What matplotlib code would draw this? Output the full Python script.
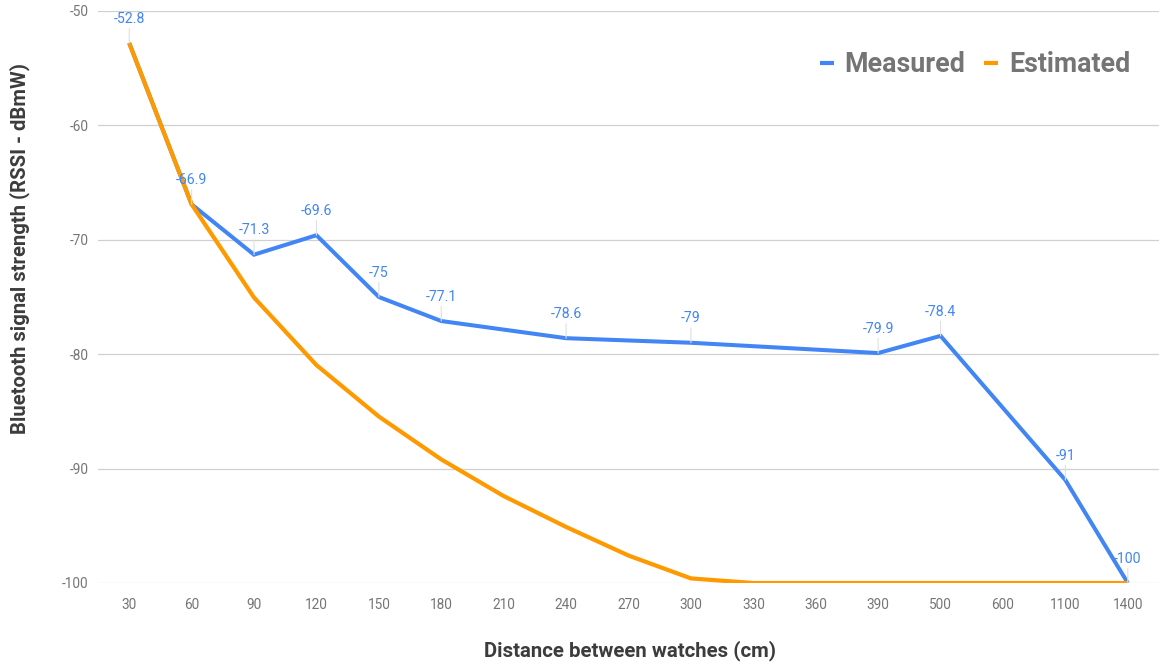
import numpy as np
import matplotlib
matplotlib.use("Agg")
import matplotlib.pyplot as plt
from matplotlib.lines import Line2D

plt.rcParams['font.family'] = ['Roboto', 'DejaVu Sans']

categories = ["30", "60", "90", "120", "150", "180", "210", "240", "270", "300",
              "330", "360", "390", "500", "600", "1100", "1400"]
measured = [-52.8, -66.9, -71.3, -69.6, -75, -77.1, np.nan, -78.6, np.nan, -79,
            np.nan, np.nan, -79.9, -78.4, np.nan, -91, -100]
estimated = [-52.8, -66.9, -75.05, -80.95, -85.45, -89.2, -92.4, -95.1, -97.6, -99.6,
             -100, -100, -100, -100, -100, -100, -100]
yticks = [-50, -60, -70, -80, -90, -100]
series_names = ["Measured", "Estimated"]

BLUE = '#4285F4'
ORANGE = '#FF9900'
GRAY = '#757575'
W, H = 1159, 664

fig = plt.figure(figsize=(W / 100, H / 100), dpi=100)
ax = fig.add_axes([98 / W, 81 / H, 1 - 98 / W, 572 / H])

x = np.arange(len(categories))
m = np.array(measured, dtype=float)
mask = ~np.isnan(m)
ax.plot(x[mask], m[mask], color=BLUE, lw=2.9, solid_joinstyle='miter',
        solid_capstyle='butt', zorder=3)
ax.plot(x, estimated, color=ORANGE, lw=3.0, solid_joinstyle='miter',
        solid_capstyle='butt', zorder=4)

for xi, v in zip(x[mask], m[mask]):
    ax.annotate(f"{v:g}", xy=(xi, v), xytext=(0, 12.5), textcoords='offset points',
                ha='center', va='bottom', color=BLUE, fontsize=10.2, zorder=5,
                arrowprops=dict(arrowstyle='-', color='#e0e0e0', lw=0.8,
                                shrinkA=0, shrinkB=0))

ax.set_xlim(-0.5, len(categories) - 0.5)
ax.set_ylim(-100, -50)
ax.set_yticks(yticks)
ax.set_yticklabels([str(t) for t in yticks])
ax.set_xticks(x)
ax.set_xticklabels(categories)
ax.tick_params(axis='both', length=0, colors=GRAY, labelsize=9.8)
ax.tick_params(axis='x', pad=11)
ax.tick_params(axis='y', pad=7)
ax.grid(axis='y', color='#d0d0d0', lw=0.9)
ax.set_axisbelow(True)
for s in ax.spines.values():
    s.set_visible(False)

fig.text(630 / W, 1 - 651 / H, "Distance between watches (cm)", fontsize=14.7,
         fontweight='bold', color='#3c3c3c', ha='center', va='center')
fig.text(19.5 / W, 1 - 248.5 / H, "Bluetooth signal strength (RSSI - dBmW)",
         fontsize=14.6, fontweight='bold', color='#3c3c3c', ha='center',
         va='center', rotation=90)

# legend
legend_items = [(series_names[0], BLUE, 820, 844), (series_names[1], ORANGE, 984, 1009)]
for name, col, hx, tx in legend_items:
    fig.add_artist(Line2D([hx / W, (hx + 14) / W], [1 - 63.3 / H, 1 - 63.3 / H],
                          transform=fig.transFigure, color=col, lw=3.0,
                          solid_capstyle='butt'))
    fig.text(tx / W, 1 - 72.5 / H, name, fontsize=19.3, fontweight='bold',
             color=GRAY, ha='left', va='baseline')

fig.savefig("out.png", dpi=100)
